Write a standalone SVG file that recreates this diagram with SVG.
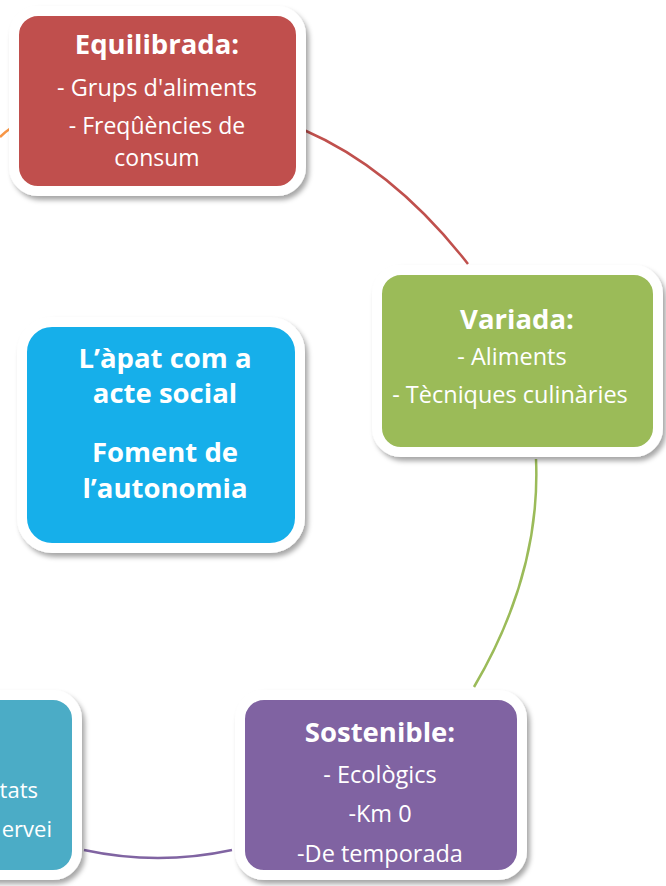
<svg xmlns="http://www.w3.org/2000/svg" width="666" height="886" viewBox="0 0 666 886">
<defs>
<filter id="sh" x="-10%" y="-10%" width="125%" height="125%">
<feDropShadow dx="3" dy="4" stdDeviation="2.5" flood-color="#000" flood-opacity="0.35"/>
</filter>
</defs>
<style>
.box{stroke:#fff;stroke-width:10;filter:url(#sh)}
.t{font-family:"Open Sans","Liberation Sans",sans-serif;fill:#fff;text-anchor:middle}
.h{font-weight:bold;font-size:27.5px}
.b{font-size:23.5px}
.s{font-size:22px;text-anchor:end}
.c{fill:none;stroke-width:2.5}
</style>
<rect width="666" height="886" fill="#fff"/>
<g id="connectors">
<path class="c" d="M0,137 Q5,132 11,128" stroke="#F79646"/>
<path class="c" d="M304,130 Q394,169 468,264" stroke="#C0504D"/>
<path class="c" d="M536,459 Q541,573 474,687" stroke="#9BBB59"/>
<path class="c" d="M84,850 Q158,866 232,850" stroke="#8064A2"/>
</g>
<g id="equilibrada">
<rect class="box" x="14" y="11" width="287" height="180" rx="24" fill="#C0504D"/>
<text class="t h" x="157" y="54">Equilibrada:</text>
<text class="t b" x="157" y="96">- Grups d'aliments</text>
<text class="t b" x="157" y="134" style="font-size:23px">- Freqûències de</text>
<text class="t b" x="157" y="166" style="font-size:23px">consum</text>
</g>
<g id="variada">
<rect class="box" x="377" y="270" width="281" height="182" rx="24" fill="#9BBB59"/>
<text class="t h" x="517" y="329">Variada:</text>
<text class="t b" x="512" y="365">- Aliments</text>
<text class="t b" x="510" y="403">- Tècniques culinàries</text>
</g>
<g id="social">
<rect class="box" x="22" y="322" width="278" height="226" rx="30" fill="#17AFEA"/>
<text class="t h" x="165" y="368">L’àpat com a</text>
<text class="t h" x="165" y="403">acte social</text>
<text class="t h" x="165" y="462">Foment de</text>
<text class="t h" x="165" y="498">l’autonomia</text>
</g>
<g id="activitats">
<rect class="box" x="-40" y="695" width="117" height="180" rx="24" fill="#4BACC6"/>
<text class="t s" x="38" y="798">tats</text>
<text class="t s" x="52" y="837">ervei</text>
</g>
<g id="sostenible">
<rect class="box" x="240" y="695" width="282" height="180" rx="24" fill="#8064A2"/>
<text class="t h" x="380" y="742">Sostenible:</text>
<text class="t b" x="380" y="783">- Ecològics</text>
<text class="t b" x="380" y="822">-Km 0</text>
<text class="t b" x="380" y="862">-De temporada</text>
</g>
</svg>
